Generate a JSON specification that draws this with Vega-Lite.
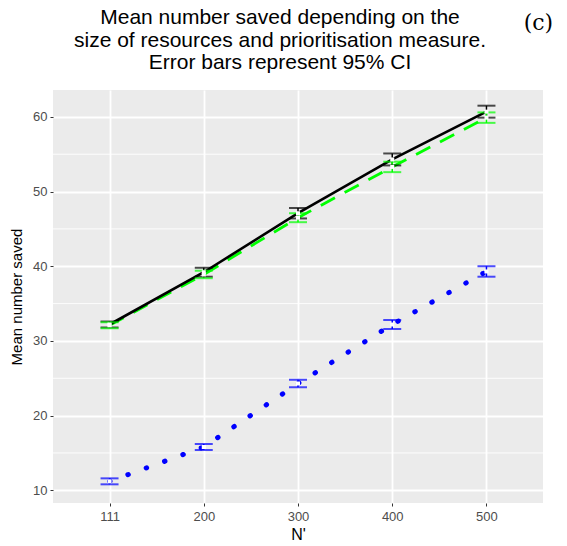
{
  "$schema": "https://vega.github.io/schema/vega-lite/v6.json",
  "autosize": "none",
  "width": 490,
  "height": 413,
  "padding": {"left": 53, "top": 90, "right": 24, "bottom": 43},
  "background": "white",
  "config": {
    "view": {"fill": "#EBEBEB", "stroke": null},
    "axis": {
      "labelFont": "Liberation Sans",
      "labelFontSize": 13,
      "labelColor": "#4D4D4D",
      "titleFont": "Liberation Sans",
      "titleFontSize": 15,
      "titleFontWeight": "normal",
      "titleColor": "#000000",
      "tickColor": "#333333",
      "tickSize": 3,
      "tickWidth": 1,
      "domain": false,
      "gridColor": "#FFFFFF",
      "gridWidth": 1.8
    }
  },
  "datasets": {
    "saved": [
      {"N": "111", "measure": "Measure A", "mean": 32.2, "lo": 31.8, "hi": 32.6},
      {"N": "200", "measure": "Measure A", "mean": 39.2, "lo": 38.6, "hi": 39.8},
      {"N": "300", "measure": "Measure A", "mean": 47.1, "lo": 46.4, "hi": 47.8},
      {"N": "400", "measure": "Measure A", "mean": 54.3, "lo": 53.5, "hi": 55.1},
      {"N": "500", "measure": "Measure A", "mean": 60.7, "lo": 59.9, "hi": 61.5},
      {"N": "111", "measure": "Measure B", "mean": 32.1, "lo": 31.7, "hi": 32.5},
      {"N": "200", "measure": "Measure B", "mean": 38.9, "lo": 38.4, "hi": 39.4},
      {"N": "300", "measure": "Measure B", "mean": 46.5, "lo": 45.9, "hi": 47.1},
      {"N": "400", "measure": "Measure B", "mean": 53.3, "lo": 52.6, "hi": 54.0},
      {"N": "500", "measure": "Measure B", "mean": 59.9, "lo": 59.2, "hi": 60.6},
      {"N": "111", "measure": "Measure C", "mean": 11.2, "lo": 10.8, "hi": 11.6},
      {"N": "200", "measure": "Measure C", "mean": 15.8, "lo": 15.4, "hi": 16.2},
      {"N": "300", "measure": "Measure C", "mean": 24.3, "lo": 23.8, "hi": 24.8},
      {"N": "400", "measure": "Measure C", "mean": 32.2, "lo": 31.6, "hi": 32.8},
      {"N": "500", "measure": "Measure C", "mean": 39.3, "lo": 38.6, "hi": 40.0}
    ],
    "minorGrid": [{"v": 15}, {"v": 25}, {"v": 35}, {"v": 45}, {"v": 55}],
    "heading": [{"lines": ["Mean number saved depending on the", "size of resources and prioritisation measure.", "Error bars represent 95% CI"]}],
    "panelTag": [{"tag": "(c)"}]
  },
  "encoding": {
    "x": {
      "field": "N",
      "type": "ordinal",
      "sort": ["111", "200", "300", "400", "500"],
      "scale": {"type": "point", "padding": 0.6},
      "axis": {"title": "N'", "labelAngle": 0, "labelPadding": 4, "titleFontSize": 16, "titlePadding": 3, "grid": true}
    }
  },
  "layer": [
    {
      "data": {"name": "minorGrid"},
      "mark": {"type": "rule", "color": "#FFFFFF", "strokeWidth": 0.9},
      "encoding": {
        "x": null,
        "y": {"field": "v", "type": "quantitative", "scale": {"domain": [8.3, 63.6], "nice": false, "zero": false}}
      }
    },
    {
      "data": {"name": "saved"},
      "transform": [{"filter": "datum.measure === 'Measure C'"}],
      "mark": {"type": "line", "color": "#0000FF", "strokeWidth": 5, "strokeCap": "round", "strokeDash": [0.5, 19]},
      "encoding": {
        "y": {"field": "mean", "type": "quantitative", "scale": {"domain": [8.3, 63.6], "nice": false, "zero": false},
              "axis": {"title": "Mean number saved", "values": [10, 20, 30, 40, 50, 60], "labelPadding": 3, "titlePadding": 8, "grid": true}}
      }
    },
    {
      "data": {"name": "saved"},
      "transform": [{"filter": "datum.measure === 'Measure B'"}],
      "mark": {"type": "line", "color": "#00FF00", "strokeWidth": 2.8, "strokeDash": [16, 11]},
      "encoding": {
        "y": {"field": "mean", "type": "quantitative"}
      }
    },
    {
      "data": {"name": "saved"},
      "transform": [{"filter": "datum.measure === 'Measure A'"}],
      "mark": {"type": "line", "color": "#000000", "strokeWidth": 2.6},
      "encoding": {
        "y": {"field": "mean", "type": "quantitative"}
      }
    },
    {
      "data": {"name": "saved"},
      "mark": {"type": "rule", "strokeWidth": 1.5},
      "encoding": {
        "y": {"field": "lo", "type": "quantitative"},
        "y2": {"field": "hi"},
        "color": {"field": "measure", "type": "nominal", "legend": null,
                  "scale": {"domain": ["Measure A", "Measure B", "Measure C"], "range": ["#000000", "#00FF00", "#0000FF"]}}
      }
    },
    {
      "data": {"name": "saved"},
      "mark": {"type": "tick", "size": 18, "thickness": 2},
      "encoding": {
        "y": {"field": "lo", "type": "quantitative"},
        "color": {"field": "measure", "type": "nominal", "legend": null}
      }
    },
    {
      "data": {"name": "saved"},
      "mark": {"type": "tick", "size": 18, "thickness": 2},
      "encoding": {
        "y": {"field": "hi", "type": "quantitative"},
        "color": {"field": "measure", "type": "nominal", "legend": null}
      }
    },
    {
      "data": {"name": "saved"},
      "mark": {"type": "point", "shape": "square", "filled": true, "color": "#FFFFFF", "size": 16, "opacity": 1},
      "encoding": {
        "y": {"field": "mean", "type": "quantitative"}
      }
    },
    {
      "data": {"name": "heading"},
      "mark": {"type": "text", "font": "Liberation Sans", "fontSize": 21, "lineHeight": 22.5, "color": "#000000", "align": "center", "baseline": "middle", "clip": false, "dx": -18},
      "encoding": {
        "x": {"datum": "300"},
        "y": {"datum": 73.2},
        "text": {"field": "lines"}
      }
    },
    {
      "data": {"name": "panelTag"},
      "mark": {"type": "text", "font": "DejaVu Serif", "fontSize": 22, "color": "#000000", "clip": false, "dx": 52},
      "encoding": {
        "x": {"datum": "500"},
        "y": {"datum": 72.6},
        "text": {"field": "tag"}
      }
    }
  ]
}
